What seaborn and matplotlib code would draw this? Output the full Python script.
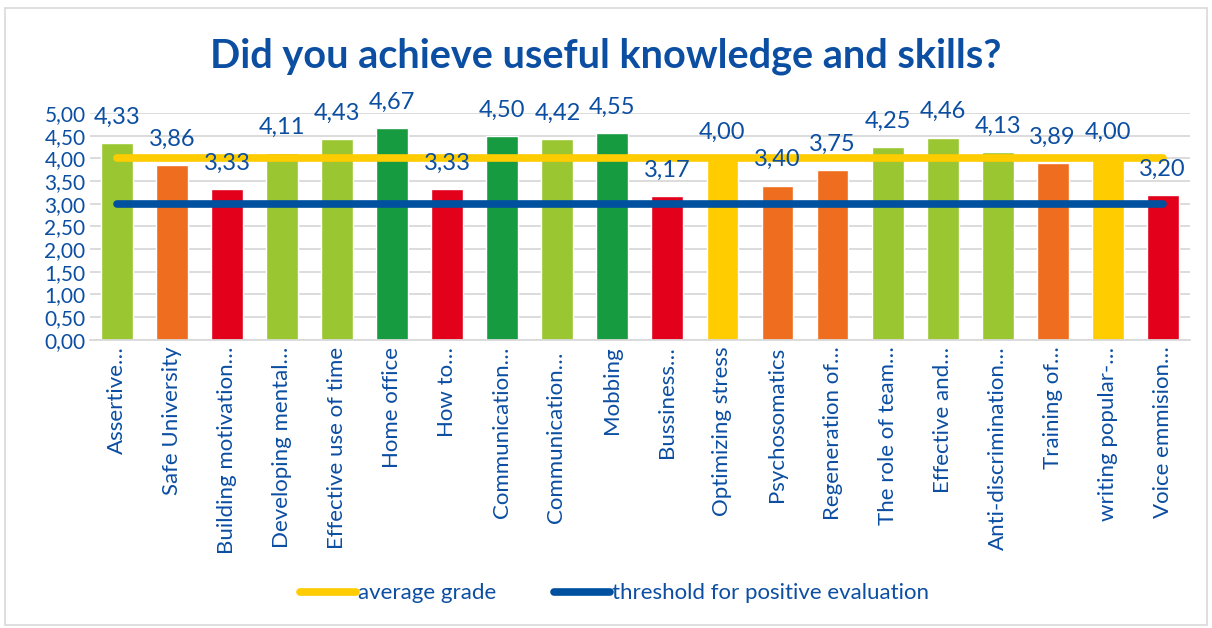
import matplotlib
matplotlib.use("Agg")
import matplotlib.pyplot as plt
import seaborn as sns
import pandas as pd
from matplotlib.patches import Rectangle

# dane z wykresu
kursy = ["Assertive…", "Safe University", "Building motivation…", "Developing mental…",
         "Effective use of time", "Home office", "How to…", "Communication…",
         "Communication… ", "Mobbing", "Bussiness…", "Optimizing stress",
         "Psychosomatics", "Regeneration of…", "The role of team…", "Effective and…",
         "Anti-discrimination…", "Training of…", "writing popular-…", "Voice emmision…"]
oceny = [4.33, 3.86, 3.33, 4.11, 4.43, 4.67, 3.33, 4.50, 4.42, 4.55,
         3.17, 4.00, 3.40, 3.75, 4.25, 4.46, 4.13, 3.89, 4.00, 3.20]
kolory = ["#9AC631", "#EF6D1E", "#E2001A", "#9AC631", "#9AC631", "#179B40", "#E2001A",
          "#179B40", "#9AC631", "#179B40", "#E2001A", "#FFCC00", "#EF6D1E", "#EF6D1E",
          "#9AC631", "#9AC631", "#9AC631", "#EF6D1E", "#FFCC00", "#E2001A"]
srednia = 4.0
prog = 3.0

niebieski = "#0B4EA2"

sns.set_style("white")
plt.rcParams['font.family'] = ['Lato', 'DejaVu Sans']

df = pd.DataFrame({"kurs": kursy, "ocena": oceny})

fig = plt.figure(figsize=(12.12, 6.28), dpi=100)
ax = fig.add_axes([0.074, 0.459, 0.908, 0.361])

sns.barplot(data=df, x="kurs", y="ocena", hue="kurs", palette=kolory, saturation=1,
            legend=False, width=0.58, ax=ax, zorder=2)

ax.plot([kursy[0], kursy[-1]], [srednia, srednia], color="#FFCC00", lw=5.5,
        solid_capstyle="round", zorder=3, label="average grade")
ax.plot([kursy[0], kursy[-1]], [prog, prog], color="#0050A0", lw=5.5,
        solid_capstyle="round", zorder=3, label="threshold for positive evaluation")

for i, v in enumerate(oceny):
    ax.annotate(f"{v:.2f}".replace(".", ","), (i, v), xytext=(0, 11),
                textcoords="offset points", ha="center", va="bottom",
                fontsize=17, color=niebieski, zorder=4)

ax.set_ylim(0, 5)
ax.set_xlim(-0.5, len(kursy) - 0.5)
ax.set_yticks([i * 0.5 for i in range(11)])
ax.set_yticklabels([f"{i * 0.5:.2f}".replace(".", ",") for i in range(11)],
                   fontsize=15, color=niebieski)
ax.yaxis.grid(True, color="#D9D9D9", lw=1.3, zorder=0)
ax.set_axisbelow(True)
ax.tick_params(axis="x", labelrotation=90, labelsize=16, labelcolor=niebieski, length=0, pad=5)
ax.tick_params(axis="y", length=0, pad=3)
ax.set_xlabel("")
ax.set_ylabel("")
for s in ["top", "right", "left"]:
    ax.spines[s].set_visible(False)
ax.spines["bottom"].set_color("#D9D9D9")
ax.spines["bottom"].set_linewidth(1.3)

fig.text(0.5, 0.91, "Did you achieve useful knowledge and skills?", ha="center", va="center",
         fontsize=28.5, fontweight="bold", color=niebieski)

leg = fig.legend(loc="center", bbox_to_anchor=(0.507, 0.055), ncol=2, frameon=False,
                 fontsize=16, handlelength=2.5, handletextpad=0.1, columnspacing=2.6)
for t in leg.get_texts():
    t.set_color(niebieski)

fig.patches.append(Rectangle((0.004, 0.004), 0.992, 0.984, transform=fig.transFigure,
                             fill=False, edgecolor="#D9D9D9", lw=1.2))

fig.savefig("out.png", dpi=100)
